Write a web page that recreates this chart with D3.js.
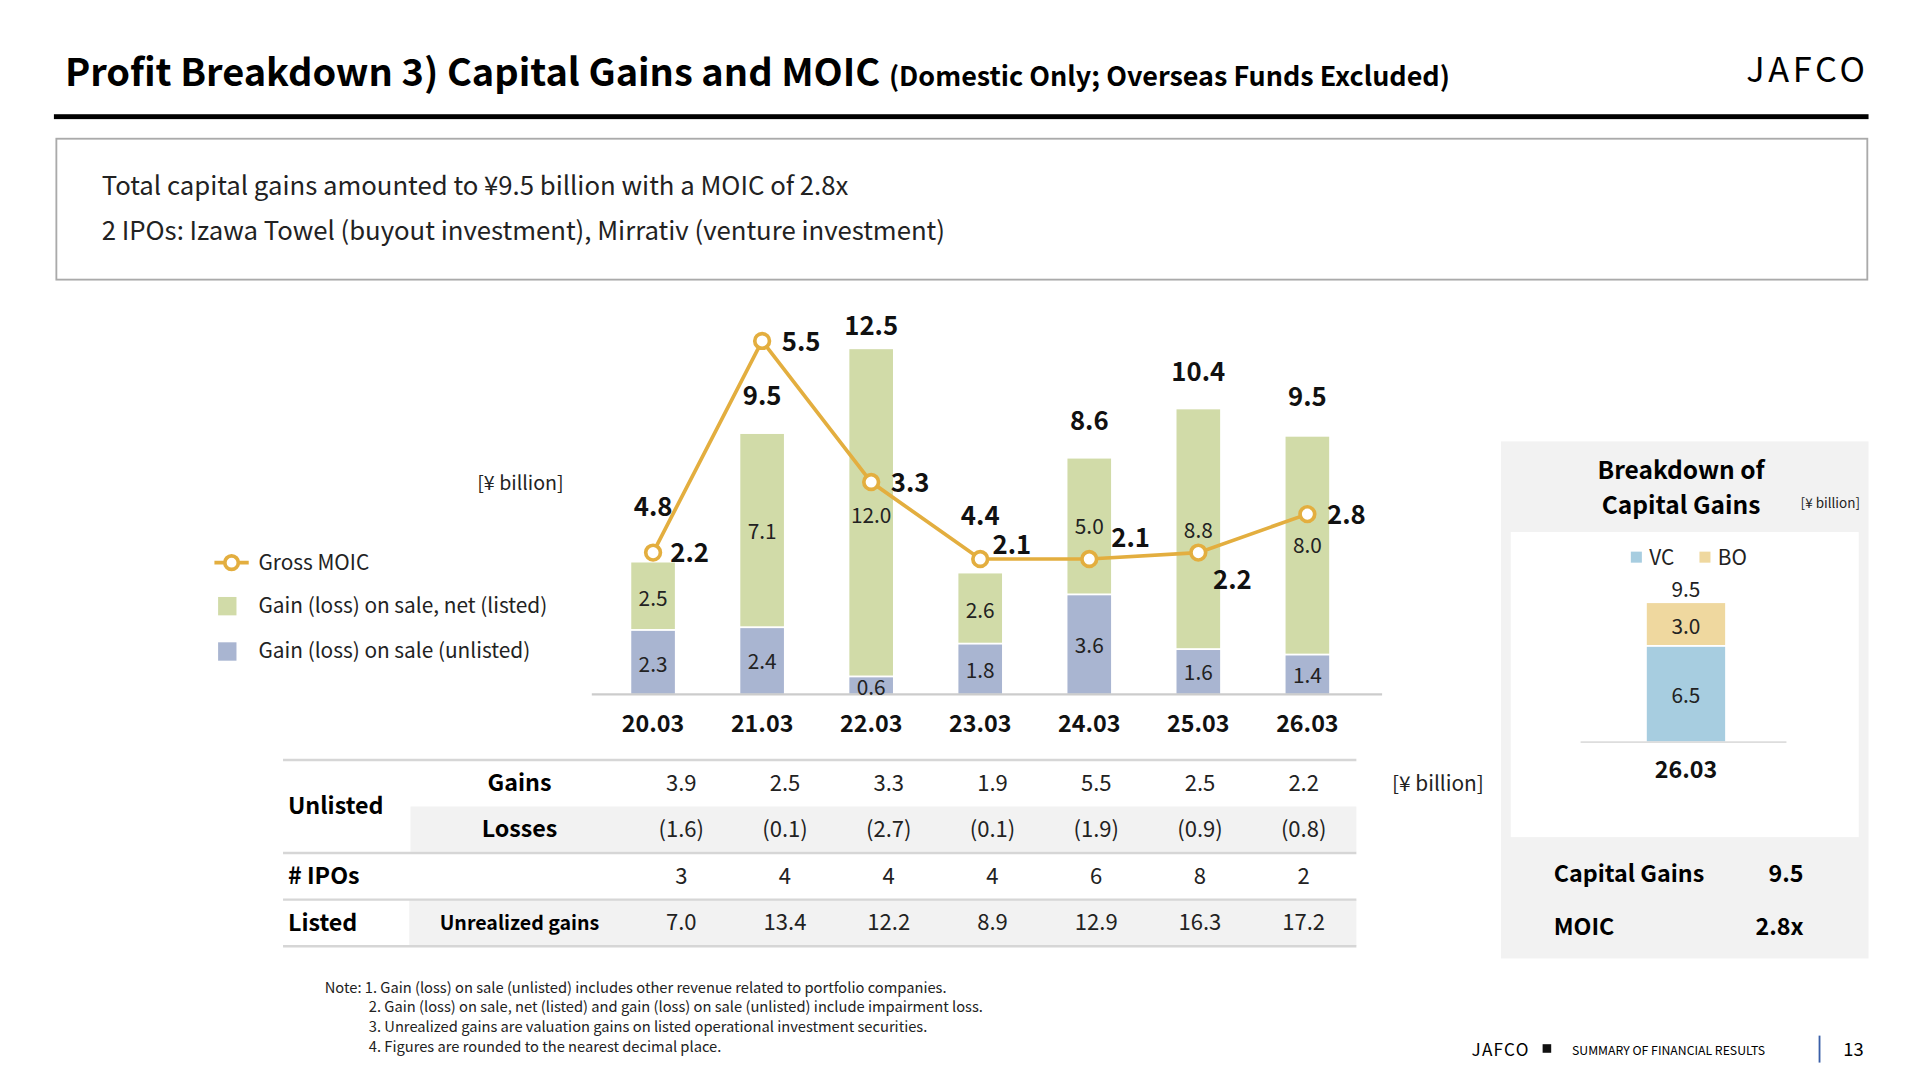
<!DOCTYPE html>
<html><head><meta charset="utf-8">
<script src="https://cdn.jsdelivr.net/npm/d3@7"></script>
<style>body{margin:0;background:#fff;overflow:hidden}text{font-family:"Noto Sans CJK JP","Noto Sans",sans-serif}</style>
</head><body>
<script>
const years=["20.03","21.03","22.03","23.03","24.03","25.03","26.03"];
const unlisted=[2.3,2.4,0.6,1.8,3.6,1.6,1.4];
const listed=[2.5,7.1,12.0,2.6,5.0,8.8,8.0];
const totals=[4.8,9.5,12.5,4.4,8.6,10.4,9.5];
const moic=[2.2,5.5,3.3,2.1,2.1,2.2,2.8];
const gains=["3.9","2.5","3.3","1.9","5.5","2.5","2.2"];
const losses=["(1.6)","(0.1)","(2.7)","(0.1)","(1.9)","(0.9)","(0.8)"];
const ipos=["3","4","4","4","6","8","2"];
const unrealized=["7.0","13.4","12.2","8.9","12.9","16.3","17.2"];
const bdCat=["26.03"];const bdVC=[6.5];const bdBO=[3.0];

const svg=d3.select("body").append("svg").attr("width",1920).attr("height",1080).attr("viewBox","0 0 1567 881");
const G="#e3ae3f",GREEN="#d1dba8",BLUE="#a9b5d1",VC="#a7cde0",BO="#efd89f";
svg.append("text").attr("x",53).attr("y",70).attr("font-size",31).attr("font-weight",700).text("Profit Breakdown 3) Capital Gains and MOIC ")
 .append("tspan").attr("font-size",22).attr("font-weight",600).text("(Domestic Only; Overseas Funds Excluded)");
svg.append("text").attr("x",1525).attr("y",67).attr("text-anchor","end").attr("font-size",28).attr("letter-spacing",3).text("JAFCO");
svg.append("rect").attr("x",44).attr("y",93).attr("width",1481).attr("height",4).attr("fill","#000");
svg.append("rect").attr("x",46).attr("y",113).attr("width",1478).attr("height",115).attr("fill","none").attr("stroke","#aaa").attr("stroke-width",1.5);
svg.append("text").attr("x",83).attr("y",159).attr("font-size",21).attr("fill","#222").text("Total capital gains amounted to ¥9.5 billion with a MOIC of 2.8x");
svg.append("text").attr("x",83).attr("y",196).attr("font-size",21).attr("fill","#222").text("2 IPOs: Izawa Towel (buyout investment), Mirrativ (venture investment)");

const x=d3.scaleBand().domain(years).range([488.5,1111.5]).paddingInner(0.6).paddingOuter(0.3);
const y=d3.scaleLinear().domain([0,12.5]).range([566,287]);
const ym=d3.scaleLinear().domain([0,5.5]).range([566,278]);
const bw=x.bandwidth();
years.forEach((yr,i)=>{
  svg.append("rect").attr("x",x(yr)).attr("width",bw).attr("y",y(unlisted[i])).attr("height",y(0)-y(unlisted[i])).attr("fill",BLUE);
  svg.append("rect").attr("x",x(yr)).attr("width",bw).attr("y",y(unlisted[i]+listed[i])).attr("height",y(unlisted[i])-y(unlisted[i]+listed[i])-1.5).attr("fill",GREEN);
});
svg.append("line").attr("x1",483).attr("x2",1128).attr("y1",566.5).attr("y2",566.5).attr("stroke","#ccc").attr("stroke-width",2);
const xa=svg.append("g").attr("transform","translate(0,566)").call(d3.axisBottom(x).tickSize(0).tickPadding(18));
xa.select(".domain").remove();
xa.selectAll("text").attr("font-size",19).attr("font-weight",700).attr("fill","#111").style("font-family",'"Noto Sans CJK JP",sans-serif');
years.forEach((yr,i)=>{
  const cx=x(yr)+bw/2;
  const lyPos=[487,433,420,497,429,432,444];
  const uyPos=[541,539,560,546,526,548,550];
  svg.append("text").attr("x",cx).attr("y",uyPos[i]+7).attr("text-anchor","middle").attr("font-size",17).attr("fill","#222").text(unlisted[i].toFixed(1));
  svg.append("text").attr("x",cx).attr("y",lyPos[i]+7).attr("text-anchor","middle").attr("font-size",17).attr("fill","#222").text(listed[i].toFixed(1));
  const ty=[413,322,265,420,343,303,323];
  svg.append("text").attr("x",cx).attr("y",ty[i]+8).attr("text-anchor","middle").attr("font-size",21).attr("font-weight",700).attr("fill","#111").text(totals[i].toFixed(1));
});
const line=d3.line().x((d,i)=>x(years[i])+bw/2).y(d=>ym(d));
svg.append("path").attr("d",line(moic)).attr("fill","none").attr("stroke",G).attr("stroke-width",3);
const mlx=[[14,0],[16,0],[16,0],[10,-12],[18,-18],[12,22],[16,0]];
moic.forEach((m,i)=>{
  const cx=x(years[i])+bw/2,cy=ym(m);
  svg.append("circle").attr("cx",cx).attr("cy",cy).attr("r",6).attr("fill","#fff").attr("stroke",G).attr("stroke-width",3);
  svg.append("text").attr("x",cx+mlx[i][0]).attr("y",cy+mlx[i][1]+8).attr("font-size",21).attr("font-weight",700).attr("fill","#111").text(m.toFixed(1));
});
svg.append("text").attr("x",460).attr("y",400).attr("text-anchor","end").attr("font-size",16).attr("fill","#222").text("[¥ billion]");
svg.append("line").attr("x1",175).attr("x2",203).attr("y1",459).attr("y2",459).attr("stroke",G).attr("stroke-width",3);
svg.append("circle").attr("cx",189).attr("cy",459).attr("r",5.5).attr("fill","#fff").attr("stroke",G).attr("stroke-width",3);
svg.append("rect").attr("x",178).attr("y",487).attr("width",15).attr("height",15).attr("fill",GREEN);
svg.append("rect").attr("x",178).attr("y",524).attr("width",15).attr("height",15).attr("fill",BLUE);
[["Gross MOIC",465],["Gain (loss) on sale, net (listed)",500],["Gain (loss) on sale (unlisted)",537]].forEach(d=>
 svg.append("text").attr("x",211).attr("y",d[1]).attr("font-size",17).attr("fill","#222").text(d[0]));

const tx=d3.scalePoint().domain(years).range([556,1064]);
svg.append("rect").attr("x",335).attr("y",658).attr("width",772).attr("height",37).attr("fill","#f2f2f2");
svg.append("rect").attr("x",231).attr("y",734).attr("width",876).attr("height",38).attr("fill","#f2f2f2");
svg.append("rect").attr("x",231).attr("y",734).attr("width",103).attr("height",38).attr("fill","#fff");
[620,696,734,772].forEach(v=>svg.append("line").attr("x1",231).attr("x2",1107).attr("y1",v).attr("y2",v).attr("stroke","#d6d6d6").attr("stroke-width",2));
const rows=[[gains,645],[losses,683],[ipos,721],[unrealized,759]];
rows.forEach(r=>years.forEach((yr,i)=>svg.append("text").attr("x",tx(yr)).attr("y",r[1]).attr("text-anchor","middle").attr("font-size",18).attr("fill","#222").text(r[0][i])));
svg.append("text").attr("x",235).attr("y",664).attr("font-size",19).attr("font-weight",700).text("Unlisted");
svg.append("text").attr("x",424).attr("y",645).attr("text-anchor","middle").attr("font-size",19).attr("font-weight",700).text("Gains");
svg.append("text").attr("x",424).attr("y",683).attr("text-anchor","middle").attr("font-size",19).attr("font-weight",700).text("Losses");
svg.append("text").attr("x",235).attr("y",721).attr("font-size",19).attr("font-weight",700).text("# IPOs");
svg.append("text").attr("x",235).attr("y",760).attr("font-size",19).attr("font-weight",700).text("Listed");
svg.append("text").attr("x",424).attr("y",759).attr("text-anchor","middle").attr("font-size",16).attr("font-weight",700).text("Unrealized gains");
svg.append("text").attr("x",1211).attr("y",645).attr("text-anchor","end").attr("font-size",17).attr("fill","#222").text("[¥ billion]");

const notes=["Note: 1. Gain (loss) on sale (unlisted) includes other revenue related to portfolio companies.","2. Gain (loss) on sale, net (listed) and gain (loss) on sale (unlisted) include impairment loss.","3. Unrealized gains are valuation gains on listed operational investment securities.","4. Figures are rounded to the nearest decimal place."];
notes.forEach((n,i)=>svg.append("text").attr("x",i?301:265).attr("y",810+i*16).attr("font-size",12).attr("fill","#222").text(n));

svg.append("rect").attr("x",1225).attr("y",360).attr("width",300).attr("height",422).attr("fill","#f2f2f2");
svg.append("rect").attr("x",1233).attr("y",434).attr("width",284).attr("height",249).attr("fill","#fff");
svg.append("text").attr("x",1372).attr("y",391).attr("text-anchor","middle").attr("font-size",20).attr("font-weight",700).text("Breakdown of");
svg.append("text").attr("x",1372).attr("y",419).attr("text-anchor","middle").attr("font-size",20).attr("font-weight",700).text("Capital Gains");
svg.append("text").attr("x",1518).attr("y",414).attr("text-anchor","end").attr("font-size",11).attr("fill","#222").text("[¥ billion]");
const bx=d3.scaleBand().domain(bdCat).range([1326,1426]).padding(0.22);
const by=d3.scaleLinear().domain([0,9.5]).range([605,492]);
bdCat.forEach((c,i)=>{
  svg.append("rect").attr("x",bx(c)).attr("width",bx.bandwidth()).attr("y",by(bdVC[i])).attr("height",by(0)-by(bdVC[i])).attr("fill",VC);
  svg.append("rect").attr("x",bx(c)).attr("width",bx.bandwidth()).attr("y",by(bdVC[i]+bdBO[i])).attr("height",by(bdVC[i])-by(bdVC[i]+bdBO[i])-1.5).attr("fill",BO);
  const cx=bx(c)+bx.bandwidth()/2;
  svg.append("text").attr("x",cx).attr("y",(by(0)+by(bdVC[i]))/2+7).attr("text-anchor","middle").attr("font-size",17).attr("fill","#222").text(bdVC[i].toFixed(1));
  svg.append("text").attr("x",cx).attr("y",(by(bdVC[i])+by(bdVC[i]+bdBO[i]))/2+7).attr("text-anchor","middle").attr("font-size",17).attr("fill","#222").text(bdBO[i].toFixed(1));
  svg.append("text").attr("x",cx).attr("y",by(bdVC[i]+bdBO[i])-5).attr("text-anchor","middle").attr("font-size",17).attr("fill","#222").text((bdVC[i]+bdBO[i]).toFixed(1));
});
svg.append("line").attr("x1",1290).attr("x2",1458).attr("y1",605.5).attr("y2",605.5).attr("stroke","#ddd").attr("stroke-width",1.5);
const bxa=svg.append("g").attr("transform","translate(0,605)").call(d3.axisBottom(bx).tickSize(0).tickPadding(16));
bxa.select(".domain").remove();
bxa.selectAll("text").attr("font-size",19).attr("font-weight",700).attr("fill","#111").style("font-family",'"Noto Sans CJK JP",sans-serif');
svg.append("rect").attr("x",1331).attr("y",450).attr("width",9).attr("height",9).attr("fill",VC);
svg.append("text").attr("x",1346).attr("y",461).attr("font-size",17).attr("fill","#222").text("VC");
svg.append("rect").attr("x",1387).attr("y",450).attr("width",9).attr("height",9).attr("fill",BO);
svg.append("text").attr("x",1402).attr("y",461).attr("font-size",17).attr("fill","#222").text("BO");
svg.append("text").attr("x",1268).attr("y",720).attr("font-size",19).attr("font-weight",700).text("Capital Gains");
svg.append("text").attr("x",1472).attr("y",720).attr("text-anchor","end").attr("font-size",19).attr("font-weight",700).text("9.5");
svg.append("text").attr("x",1268).attr("y",763).attr("font-size",19).attr("font-weight",700).text("MOIC");
svg.append("text").attr("x",1472).attr("y",763).attr("text-anchor","end").attr("font-size",19).attr("font-weight",700).text("2.8x");

svg.append("text").attr("x",1201).attr("y",862).attr("font-size",14).attr("letter-spacing",1).text("JAFCO");
svg.append("rect").attr("x",1259).attr("y",852).attr("width",7).attr("height",7).attr("fill","#111");
svg.append("text").attr("x",1283).attr("y",861).attr("font-size",10).text("SUMMARY OF FINANCIAL RESULTS");
svg.append("line").attr("x1",1485).attr("x2",1485).attr("y1",845).attr("y2",867).attr("stroke","#3a5fa8").attr("stroke-width",1.5);
svg.append("text").attr("x",1521).attr("y",862).attr("text-anchor","end").attr("font-size",15).text("13");
</script>
</body></html>
